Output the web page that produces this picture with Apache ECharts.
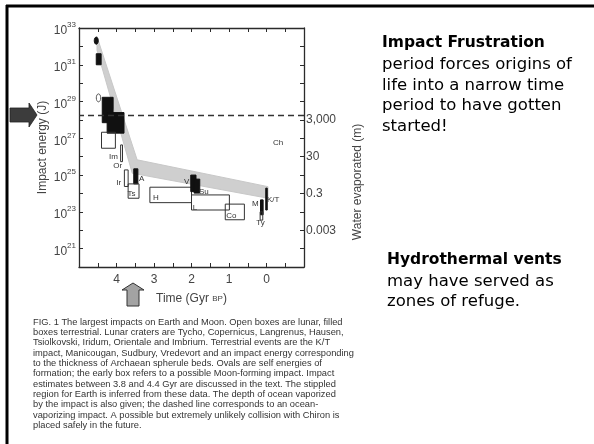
<!DOCTYPE html>
<html>
<head>
<meta charset="utf-8">
<title>Impact frustration</title>
<script src="https://cdn.jsdelivr.net/npm/echarts@6/dist/echarts.min.js"></script>
<style>
html, body { margin: 0; padding: 0; background: #fff; }
#chart { width: 594px; height: 444px; }
</style>
</head>
<body>
<div id="chart"></div>
<script>
// energies are kept as log10 of joules, times in Gyr before present
var timeLabels = [4, 3, 2, 1, 0]
var energyLabelExp = [21, 23, 25, 27, 29, 31, 33]
// water evaporated (m) labels and the log10 of water-axis value they sit at
var waterLabels = ['3,000', '30', '0.3', '0.003']
var waterLabelExp = [3, 1, -1, -3]

// stippled region for Earth (outline)
var bandTime = [4.52, 3.45, -0.04, -0.04, 3.58, 4.52]
var bandExp = [32.53, 25.83, 24.37, 23.74, 25.10, 31.80]

// boxes: filled = terrestrial, open = lunar
var boxTimeA = [4.54, 4.38, 4.25, 4.40, 3.89, 3.79, 3.54, 3.69, 3.11, 2.02, 1.93, 2.00, 1.10, 0.02, 0.16, 0.17]
var boxTimeB = [4.41, 4.09, 3.80, 4.03, 3.84, 3.69, 3.43, 3.40, 2.00, 1.88, 1.78, 0.99, 0.59, -0.02, 0.09, 0.10]
var boxExpLo = [31.0, 27.85, 27.28, 26.46, 25.73, 24.38, 24.52, 23.74, 23.50, 24.10, 24.02, 23.10, 22.57, 23.10, 22.84, 22.55]
var boxExpHi = [31.6, 29.23, 28.40, 27.33, 26.64, 25.28, 25.34, 24.52, 24.34, 25.00, 24.78, 23.92, 23.42, 24.29, 23.65, 23.00]
var boxFilled = [1, 1, 1, 0, 0, 0, 1, 0, 0, 1, 1, 0, 0, 1, 1, 0]

// ovals (self energies of formation)
var ovalTime = [4.54, 4.48]
var ovalExp = [32.31, 29.20]
var ovalFilled = [1, 0]

// crater / event labels
var craterNames = ['Im', 'Or', 'Ir', 'A', 'Ts', 'H', 'V', 'Su', 'L', 'Co', 'Ch', 'K/T', 'M', 'Ty']
var craterTime = [4.08, 3.97, 3.94, 3.33, 3.60, 2.95, 2.13, 1.67, 1.91, 0.94, -0.31, -0.18, 0.30, 0.16]
var craterExp = [26.0, 25.52, 24.56, 24.78, 23.98, 23.76, 24.65, 24.10, 23.22, 22.78, 26.73, 23.65, 23.43, 22.39]

// ocean-vaporizing impact (dashed line)
var oceanExp = 28.27

var captionLines = [
  'FIG. 1 The largest impacts on Earth and Moon. Open boxes are lunar, filled',
  'boxes terrestrial. Lunar craters are Tycho, Copernicus, Langrenus, Hausen,',
  'Tsiolkovski, Iridum, Orientale and Imbrium. Terrestrial events are the K/T',
  'impact, Manicougan, Sudbury, Vredevort and an impact energy corresponding',
  'to the thickness of Archaean spherule beds. Ovals are self energies of',
  'formation; the early box refers to a possible Moon-forming impact. Impact',
  'estimates between 3.8 and 4.4 Gyr are discussed in the text. The stippled',
  'region for Earth is inferred from these data. The depth of ocean vaporized',
  'by the impact is also given; the dashed line corresponds to an ocean-',
  'vaporizing impact. A possible but extremely unlikely collision with Chiron is',
  'placed safely in the future.'
]
var sideText1 = ['period forces origins of', 'life into a narrow time', 'period to have gotten', 'started!']
var sideText2 = ['may have served as', 'zones of refuge.']

function E(x) { return Math.pow(10, x) }

var chart = echarts.init(document.getElementById('chart'))

var axisColor = '#2b2b2b'
var textColor = '#444'
var slideFont = '"Comic Sans MS", "DejaVu Sans", sans-serif'

var bandData = bandTime.map(function (t, i) { return [t, E(bandExp[i])] })
var boxData = boxTimeA.map(function (t, i) {
  return [t, boxTimeB[i], E(boxExpLo[i]), E(boxExpHi[i]), boxFilled[i]]
})
var ovalData = ovalTime.map(function (t, i) { return [t, E(ovalExp[i]), ovalFilled[i]] })
var labelData = craterNames.map(function (n, i) {
  return { name: n, value: [craterTime[i], E(craterExp[i])] }
})

var graphics = [
  // slide frame
  { type: 'line', shape: { x1: 6, y1: 6, x2: 594, y2: 6 }, style: { stroke: '#000', lineWidth: 3 } },
  { type: 'line', shape: { x1: 7, y1: 5, x2: 7, y2: 444 }, style: { stroke: '#000', lineWidth: 3 } },
  // arrow pointing at the dashed line
  {
    type: 'polygon', z: 10,
    shape: { points: [[10, 108], [29, 108], [29, 103], [37, 115], [29, 127], [29, 122], [10, 122]] },
    style: { fill: '#3c3c3c', stroke: '#222', lineWidth: 0.8 }
  },
  // arrow pointing at ~3.8 Gyr
  {
    type: 'polygon',
    shape: { points: [[133, 283], [144, 290], [139, 290], [139, 306], [127, 306], [127, 290], [122, 290]] },
    style: { fill: '#a3a3a3', stroke: '#333', lineWidth: 1 }
  },
  {
    type: 'text', x: 358, y: 182, rotation: Math.PI / 2,
    style: { text: 'Water evaporated (m)', fill: textColor, font: '12px "Liberation Sans", Arial, sans-serif', align: 'center', verticalAlign: 'middle' }
  },
  {
    type: 'text', x: 382, y: 43,
    style: { text: 'Impact Frustration', fill: '#000', font: 'bold 15.5px ' + slideFont, verticalAlign: 'middle' }
  },
  {
    type: 'text', x: 387, y: 260,
    style: { text: 'Hydrothermal vents', fill: '#000', font: 'bold 15.5px ' + slideFont, verticalAlign: 'middle' }
  }
]
sideText1.forEach(function (s, i) {
  graphics.push({
    type: 'text', x: 382, y: 64.5 + i * 20.8,
    style: { text: s, fill: '#000', font: '16.5px ' + slideFont, verticalAlign: 'middle' }
  })
})
sideText2.forEach(function (s, i) {
  graphics.push({
    type: 'text', x: 387, y: 281.5 + i * 20.5,
    style: { text: s, fill: '#000', font: '16.5px ' + slideFont, verticalAlign: 'middle' }
  })
})
captionLines.forEach(function (s, i) {
  graphics.push({
    type: 'text', x: 33, y: 322 + i * 10.35,
    style: { text: s, fill: '#333', font: '9.3px "Liberation Sans", Arial, sans-serif', verticalAlign: 'middle' }
  })
})

var tickStyle = { show: true, inside: true, length: 4, lineStyle: { color: axisColor, width: 1 } }
var lineStyle = { show: true, onZero: false, lineStyle: { color: axisColor, width: 1.3 } }

chart.setOption({
  animation: false,
  backgroundColor: '#fff',
  grid: { left: 79, right: 290, top: 28, bottom: 177 },
  xAxis: [{
    type: 'value', min: -1, max: 5, interval: 0.5, inverse: true, position: 'bottom',
    axisLine: lineStyle, axisTick: tickStyle, splitLine: { show: false },
    axisLabel: {
      margin: 7, color: textColor, fontSize: 12, fontFamily: 'Liberation Sans, Arial, sans-serif',
      formatter: function (v) { return timeLabels.indexOf(v) >= 0 ? String(v) : '' }
    },
    name: '{a|Time (Gyr }{b|BP}{a|)}', nameLocation: 'middle', nameGap: 26,
    nameTextStyle: {
      rich: {
        a: { fontSize: 12, color: textColor, fontFamily: 'Liberation Sans, Arial, sans-serif' },
        b: { fontSize: 8, color: textColor, fontFamily: 'Liberation Sans, Arial, sans-serif' }
      }
    }
  }, {
    type: 'value', min: -1, max: 5, interval: 0.5, inverse: true, position: 'top',
    axisLine: lineStyle, axisTick: tickStyle, axisLabel: { show: false }, splitLine: { show: false }
  }],
  yAxis: [{
    type: 'log', logBase: 10, min: E(20), max: E(33), interval: 1, position: 'left',
    axisLine: lineStyle, axisTick: tickStyle, splitLine: { show: false }, minorTick: { show: false },
    axisLabel: {
      margin: 3, color: textColor,
      formatter: function (v) {
        var n = Math.round(Math.log10(v))
        return energyLabelExp.indexOf(n) >= 0 ? '{b|10}{s|' + n + '}' : ''
      },
      rich: {
        b: { fontSize: 12, color: textColor, fontFamily: 'Liberation Sans, Arial, sans-serif', padding: [6, 0, 0, 0] },
        s: { fontSize: 8, color: textColor, fontFamily: 'Liberation Sans, Arial, sans-serif', padding: [0, 0, 6, 0] }
      }
    },
    name: 'Impact energy (J)', nameLocation: 'middle', nameGap: 30,
    nameTextStyle: { fontSize: 12, color: textColor, fontFamily: 'Liberation Sans, Arial, sans-serif' }
  }, {
    type: 'log', logBase: 10, min: E(-5), max: E(8), interval: 1, position: 'right',
    axisLine: lineStyle, axisTick: tickStyle, splitLine: { show: false },
    axisLabel: {
      margin: 2, color: textColor, fontSize: 12, fontFamily: 'Liberation Sans, Arial, sans-serif',
      formatter: function (v) {
        var i = waterLabelExp.indexOf(Math.round(Math.log10(v)))
        return i >= 0 ? waterLabels[i] : ''
      }
    }
  }],
  graphic: graphics,
  series: [{
    name: 'Earth region',
    type: 'custom',
    z: 1,
    data: bandData,
    encode: { x: 0, y: 1 },
    renderItem: function (params, api) {
      if (params.dataIndex !== 0) return null
      var pts = bandData.map(function (d) { return api.coord(d) })
      return { type: 'polygon', shape: { points: pts }, style: { fill: '#cfcfcf', stroke: '#c8c8c8', lineWidth: 1 } }
    },
    markLine: {
      silent: true, symbol: 'none', label: { show: false },
      lineStyle: { color: '#333', width: 1.3, type: [6, 4] },
      data: [{ yAxis: E(oceanExp) }]
    }
  }, {
    name: 'craters',
    type: 'custom',
    z: 3,
    data: boxData,
    encode: { x: [0, 1], y: [2, 3] },
    renderItem: function (params, api) {
      var a = api.coord([api.value(0), api.value(3)])
      var b = api.coord([api.value(1), api.value(2)])
      var filled = api.value(4) === 1
      return {
        type: 'rect',
        shape: { x: Math.min(a[0], b[0]), y: Math.min(a[1], b[1]), width: Math.abs(b[0] - a[0]), height: Math.abs(b[1] - a[1]) },
        style: { fill: filled ? '#111' : 'rgba(255,255,255,0)', stroke: filled ? '#111' : '#333', lineWidth: 1 }
      }
    }
  }, {
    name: 'ovals',
    type: 'custom',
    z: 3,
    data: ovalData,
    encode: { x: 0, y: 1 },
    renderItem: function (params, api) {
      var c = api.coord([api.value(0), api.value(1)])
      var filled = api.value(2) === 1
      return {
        type: 'ellipse',
        shape: { cx: c[0], cy: c[1], rx: filled ? 2 : 2.2, ry: filled ? 3.6 : 4 },
        style: { fill: filled ? '#111' : '#fff', stroke: filled ? '#111' : '#555', lineWidth: 1 }
      }
    }
  }, {
    name: 'labels',
    type: 'custom',
    z: 4,
    data: labelData,
    encode: { x: 0, y: 1 },
    renderItem: function (params, api) {
      var c = api.coord([api.value(0), api.value(1)])
      return {
        type: 'text', x: c[0], y: c[1],
        style: { text: craterNames[params.dataIndex], fill: '#333', font: '8px "Liberation Sans", Arial, sans-serif', align: 'center', verticalAlign: 'middle' }
      }
    }
  }]
})
</script>
</body>
</html>
